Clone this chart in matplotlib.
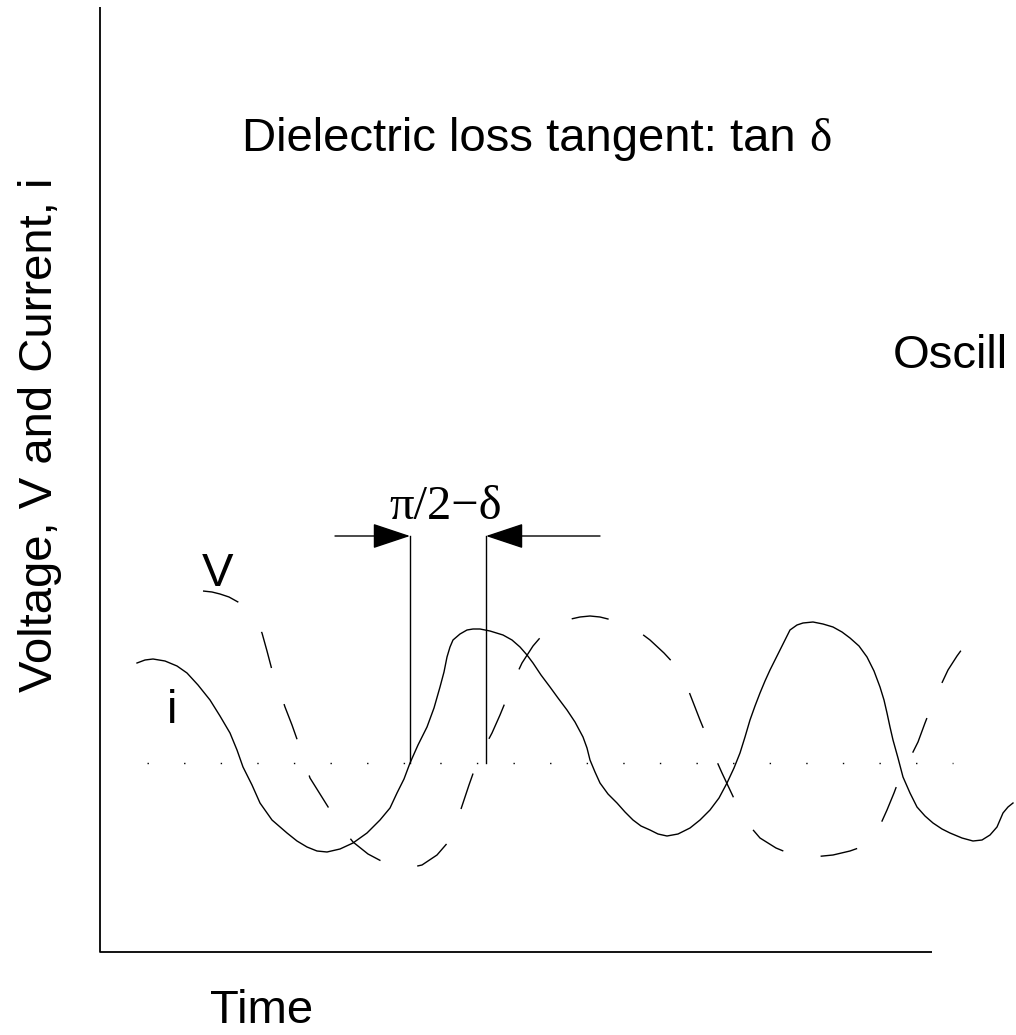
import matplotlib
matplotlib.use("Agg")
import matplotlib.pyplot as plt

# ---- data (pixel-space units) ----
i_x = [137, 145, 153, 165, 177, 187, 198, 210, 220, 230, 237, 243, 252, 260, 272, 287,
       297, 307, 317, 327, 340, 353, 367, 380, 390, 397, 404, 410, 418, 427, 434, 440,
       444, 447, 450, 453, 460, 467, 473, 480, 490, 503, 512, 520, 527, 533, 541, 550,
       558, 567, 575, 583, 587, 590, 595, 600, 608, 617, 625, 633, 641, 650, 658, 667,
       678, 690, 700, 710, 719, 727, 734, 740, 745, 750, 755, 760, 765, 770, 775, 780,
       785, 790, 797, 803, 813, 823, 833, 842, 850, 859, 867, 874, 880, 884, 887, 890,
       893, 898, 903, 910, 917, 925, 933, 942, 950, 962, 973, 982, 990, 997, 1003, 1008,
       1013]
i_y = [663, 660, 659, 661, 666, 673, 685, 700, 716, 733, 750, 767, 785, 803, 820, 833,
       841, 847, 851, 852, 849, 843, 833, 820, 808, 793, 779, 763, 745, 727, 708, 687,
       672, 657, 647, 640, 634, 630, 629, 629, 631, 635, 640, 647, 655, 663, 675, 687,
       698, 710, 722, 737, 748, 760, 772, 783, 794, 803, 812, 820, 826, 830, 834, 836,
       834, 828, 820, 810, 798, 783, 768, 753, 737, 720, 706, 693, 681, 670, 660, 650,
       640, 630, 625, 623, 622, 624, 627, 632, 638, 646, 657, 671, 687, 700, 713, 727,
       740, 758, 777, 793, 807, 816, 823, 829, 833, 838, 841, 840, 835, 827, 813, 807,
       803]

v_x = [203, 212, 220, 229, 238, 246, 252, 257, 262, 267, 272, 279, 285, 292, 298, 304,
       310, 320, 330, 341, 353, 368, 385, 394, 403, 413, 422, 437, 450, 454, 457, 460,
       463, 469, 475, 483, 492, 500, 507, 514, 522, 533, 545, 553, 562, 571, 580, 590,
       600, 608, 617, 626, 635, 642, 650, 664, 677, 686, 693, 700, 707, 714, 722, 730,
       738, 748, 760, 776, 793, 803, 813, 823, 833, 850, 867, 878, 887, 894, 900, 909,
       918, 925, 932, 940, 948, 957, 965, 970]
v_y = [591, 592, 594, 597, 602, 608, 615, 623, 633, 651, 670, 689, 707, 725, 742, 760,
       778, 794, 810, 827, 842, 854, 863, 866, 868, 867, 865, 855, 840, 831, 822, 812,
       803, 785, 768, 750, 733, 715, 698, 680, 663, 646, 632, 627, 622, 619, 617, 616,
       617, 619, 622, 625, 629, 634, 640, 653, 667, 684, 702, 720, 737, 755, 773, 790,
       807, 824, 838, 848, 855, 856, 857, 856, 855, 851, 845, 830, 810, 793, 777, 760,
       742, 723, 705, 687, 670, 656, 645, 642]

baseline_x = [147, 953]
baseline_y = [763, 763]

axis_x = [100, 100, 932]
axis_y = [7, 952, 952]

marker_x = [410, 486]
marker_top = 536
marker_bottom = 763
arrow_left = (335, 410)
arrow_right = (600, 486)

title = "Dielectric loss tangent: tan "
ylabel = "Voltage, V and Current, i"
xlabel = "Time"
phase_label = "\u03c0/2\u2212\u03b4"

# ---- figure ----
fig = plt.figure(figsize=(10.16, 10.35), dpi=100)
ax = fig.add_axes([0, 0, 1, 1])
ax.set_xlim(0, 1016)
ax.set_ylim(1035, 0)
ax.axis("off")

sans = "Liberation Sans"
serif = "Liberation Serif"

ax.plot(axis_x, axis_y, color="black", lw=1.3, solid_capstyle="butt")
ax.plot(baseline_x, baseline_y, color="black", lw=1.0,
        linestyle=(0, (1.0, 25.35)))
ax.plot(i_x, i_y, color="black", lw=1.0, solid_joinstyle="round")
ax.plot(v_x, v_y, color="black", lw=1.0, linestyle=(0, (27, 27.5)),
        dash_joinstyle="round")

for mx in marker_x:
    ax.plot([mx, mx], [marker_top, marker_bottom], color="black", lw=1.0)

for start, end in (arrow_left, arrow_right):
    ax.annotate("", xy=(end, marker_top), xytext=(start, marker_top),
                arrowprops=dict(arrowstyle="-|>,head_length=2.4,head_width=0.8",
                                mutation_scale=10, color="black", lw=1.0,
                                shrinkA=0, shrinkB=0))

ax.text(242, 151, title, fontsize=34, family=sans, ha="left", va="baseline")
ax.text(809, 151, "\u03b4", fontsize=34, family=serif, ha="left", va="baseline")
ax.text(893, 368, "Oscill", fontsize=34, family=sans, ha="left", va="baseline")
ax.text(40, 435, ylabel, fontsize=34, family=sans, rotation=90,
        ha="center", va="center")
ax.text(262, 1023, xlabel, fontsize=34, family=sans, ha="center", va="baseline")
ax.text(218, 586, "V", fontsize=34, family=sans, ha="center", va="baseline")
ax.text(172, 723, "i", fontsize=34, family=sans, ha="center", va="baseline")
ax.text(446, 519, phase_label, fontsize=35, family=serif, ha="center", va="baseline")

fig.savefig("out.png", dpi=100, facecolor="white")
